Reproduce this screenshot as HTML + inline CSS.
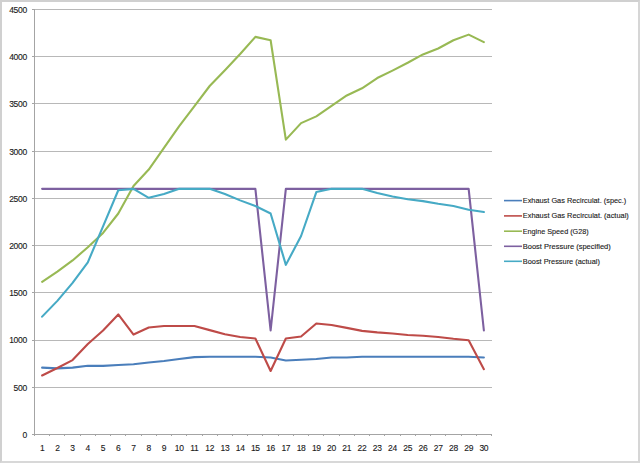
<!DOCTYPE html>
<html><head><meta charset="utf-8"><style>
html,body{margin:0;padding:0;background:#fff;}
body{width:640px;height:463px;overflow:hidden;position:relative;}
.frame{position:absolute;left:0;top:0;width:636px;height:459px;border-style:solid;border-width:2px;border-color:#d0d0d0 #d6d6d6 #d8d8d8 #d0d0d0;}
svg{position:absolute;left:0;top:0;}
.ax{font-family:"Liberation Sans",sans-serif;font-size:8.5px;letter-spacing:-0.3px;fill:#1a1a1a;stroke:#1a1a1a;stroke-width:0.12px;}
.lg{font-family:"Liberation Sans",sans-serif;font-size:7.4px;fill:#1a1a1a;stroke:#1a1a1a;stroke-width:0.12px;}
</style></head><body>
<div class="frame"></div>
<svg width="640" height="463" viewBox="0 0 640 463">
<line x1="34" y1="434.5" x2="492" y2="434.5" stroke="#b8b8b8" stroke-width="1"/>
<line x1="34" y1="387.5" x2="492" y2="387.5" stroke="#b8b8b8" stroke-width="1"/>
<line x1="34" y1="340.5" x2="492" y2="340.5" stroke="#b8b8b8" stroke-width="1"/>
<line x1="34" y1="292.5" x2="492" y2="292.5" stroke="#b8b8b8" stroke-width="1"/>
<line x1="34" y1="245.5" x2="492" y2="245.5" stroke="#b8b8b8" stroke-width="1"/>
<line x1="34" y1="198.5" x2="492" y2="198.5" stroke="#b8b8b8" stroke-width="1"/>
<line x1="34" y1="151.5" x2="492" y2="151.5" stroke="#b8b8b8" stroke-width="1"/>
<line x1="34" y1="103.5" x2="492" y2="103.5" stroke="#b8b8b8" stroke-width="1"/>
<line x1="34" y1="56.5" x2="492" y2="56.5" stroke="#b8b8b8" stroke-width="1"/>
<line x1="34" y1="9.5" x2="492" y2="9.5" stroke="#b8b8b8" stroke-width="1"/>
<line x1="34.5" y1="9" x2="34.5" y2="435" stroke="#a4a4a4" stroke-width="1"/>
<line x1="32" y1="434.5" x2="34" y2="434.5" stroke="#a4a4a4" stroke-width="1"/>
<line x1="32" y1="387.5" x2="34" y2="387.5" stroke="#a4a4a4" stroke-width="1"/>
<line x1="32" y1="340.5" x2="34" y2="340.5" stroke="#a4a4a4" stroke-width="1"/>
<line x1="32" y1="292.5" x2="34" y2="292.5" stroke="#a4a4a4" stroke-width="1"/>
<line x1="32" y1="245.5" x2="34" y2="245.5" stroke="#a4a4a4" stroke-width="1"/>
<line x1="32" y1="198.5" x2="34" y2="198.5" stroke="#a4a4a4" stroke-width="1"/>
<line x1="32" y1="151.5" x2="34" y2="151.5" stroke="#a4a4a4" stroke-width="1"/>
<line x1="32" y1="103.5" x2="34" y2="103.5" stroke="#a4a4a4" stroke-width="1"/>
<line x1="32" y1="56.5" x2="34" y2="56.5" stroke="#a4a4a4" stroke-width="1"/>
<line x1="32" y1="9.5" x2="34" y2="9.5" stroke="#a4a4a4" stroke-width="1"/>
<line x1="34" y1="434.5" x2="492" y2="434.5" stroke="#a4a4a4" stroke-width="1"/>
<line x1="34.5" y1="434" x2="34.5" y2="436" stroke="#a4a4a4" stroke-width="1"/>
<line x1="49.5" y1="434" x2="49.5" y2="436" stroke="#a4a4a4" stroke-width="1"/>
<line x1="64.5" y1="434" x2="64.5" y2="436" stroke="#a4a4a4" stroke-width="1"/>
<line x1="80.5" y1="434" x2="80.5" y2="436" stroke="#a4a4a4" stroke-width="1"/>
<line x1="95.5" y1="434" x2="95.5" y2="436" stroke="#a4a4a4" stroke-width="1"/>
<line x1="110.5" y1="434" x2="110.5" y2="436" stroke="#a4a4a4" stroke-width="1"/>
<line x1="125.5" y1="434" x2="125.5" y2="436" stroke="#a4a4a4" stroke-width="1"/>
<line x1="141.5" y1="434" x2="141.5" y2="436" stroke="#a4a4a4" stroke-width="1"/>
<line x1="156.5" y1="434" x2="156.5" y2="436" stroke="#a4a4a4" stroke-width="1"/>
<line x1="171.5" y1="434" x2="171.5" y2="436" stroke="#a4a4a4" stroke-width="1"/>
<line x1="186.5" y1="434" x2="186.5" y2="436" stroke="#a4a4a4" stroke-width="1"/>
<line x1="202.5" y1="434" x2="202.5" y2="436" stroke="#a4a4a4" stroke-width="1"/>
<line x1="217.5" y1="434" x2="217.5" y2="436" stroke="#a4a4a4" stroke-width="1"/>
<line x1="232.5" y1="434" x2="232.5" y2="436" stroke="#a4a4a4" stroke-width="1"/>
<line x1="247.5" y1="434" x2="247.5" y2="436" stroke="#a4a4a4" stroke-width="1"/>
<line x1="262.5" y1="434" x2="262.5" y2="436" stroke="#a4a4a4" stroke-width="1"/>
<line x1="278.5" y1="434" x2="278.5" y2="436" stroke="#a4a4a4" stroke-width="1"/>
<line x1="293.5" y1="434" x2="293.5" y2="436" stroke="#a4a4a4" stroke-width="1"/>
<line x1="308.5" y1="434" x2="308.5" y2="436" stroke="#a4a4a4" stroke-width="1"/>
<line x1="323.5" y1="434" x2="323.5" y2="436" stroke="#a4a4a4" stroke-width="1"/>
<line x1="339.5" y1="434" x2="339.5" y2="436" stroke="#a4a4a4" stroke-width="1"/>
<line x1="354.5" y1="434" x2="354.5" y2="436" stroke="#a4a4a4" stroke-width="1"/>
<line x1="369.5" y1="434" x2="369.5" y2="436" stroke="#a4a4a4" stroke-width="1"/>
<line x1="384.5" y1="434" x2="384.5" y2="436" stroke="#a4a4a4" stroke-width="1"/>
<line x1="400.5" y1="434" x2="400.5" y2="436" stroke="#a4a4a4" stroke-width="1"/>
<line x1="415.5" y1="434" x2="415.5" y2="436" stroke="#a4a4a4" stroke-width="1"/>
<line x1="430.5" y1="434" x2="430.5" y2="436" stroke="#a4a4a4" stroke-width="1"/>
<line x1="445.5" y1="434" x2="445.5" y2="436" stroke="#a4a4a4" stroke-width="1"/>
<line x1="461.5" y1="434" x2="461.5" y2="436" stroke="#a4a4a4" stroke-width="1"/>
<line x1="476.5" y1="434" x2="476.5" y2="436" stroke="#a4a4a4" stroke-width="1"/>
<line x1="491.5" y1="434" x2="491.5" y2="436" stroke="#a4a4a4" stroke-width="1"/>
<polyline points="42.12,367.63 57.35,368.38 72.58,367.63 87.82,365.83 103.05,365.83 118.28,364.98 133.52,364.32 148.75,362.43 163.98,360.92 179.22,359.03 194.45,357.14 209.68,356.77 224.92,356.77 240.15,356.77 255.38,356.77 270.62,357.52 285.85,360.54 301.08,359.79 316.32,359.03 331.55,357.52 346.78,357.52 362.02,356.77 377.25,356.77 392.48,356.77 407.72,356.77 422.95,356.77 438.18,356.77 453.42,356.77 468.65,356.77 483.88,357.52" fill="none" stroke="#4A7EBB" stroke-width="2.1" stroke-linejoin="round" stroke-linecap="round"/>
<polyline points="42.12,375.47 57.35,368.01 72.58,360.07 87.82,344.02 103.05,330.51 118.28,314.46 133.52,334.57 148.75,327.49 163.98,325.98 179.22,325.98 194.45,325.98 209.68,330.13 224.92,334.29 240.15,336.93 255.38,338.44 270.62,371.03 285.85,338.44 301.08,336.46 316.32,323.43 331.55,324.94 346.78,327.87 362.02,330.89 377.25,332.40 392.48,333.53 407.72,335.04 422.95,335.80 438.18,336.93 453.42,338.82 468.65,340.33 483.88,369.14" fill="none" stroke="#BE4B48" stroke-width="2.1" stroke-linejoin="round" stroke-linecap="round"/>
<polyline points="42.12,281.78 57.35,271.58 72.58,260.43 87.82,247.31 103.05,232.95 118.28,213.49 133.52,186.01 148.75,169.58 163.98,147.86 179.22,126.04 194.45,106.02 209.68,85.99 224.92,70.32 240.15,54.07 255.38,36.88 270.62,40.28 285.85,139.64 301.08,123.11 316.32,116.41 331.55,105.92 346.78,95.44 362.02,88.26 377.25,78.06 392.48,70.60 407.72,62.76 422.95,54.45 438.18,48.50 453.42,40.28 468.65,34.62 483.88,42.08" fill="none" stroke="#98B954" stroke-width="2.1" stroke-linejoin="round" stroke-linecap="round"/>
<polyline points="42.12,188.84 57.35,188.84 72.58,188.84 87.82,188.84 103.05,188.84 118.28,188.84 133.52,188.84 148.75,188.84 163.98,188.84 179.22,188.84 194.45,188.84 209.68,188.84 224.92,188.84 240.15,188.84 255.38,188.84 270.62,330.51 285.85,188.84 301.08,188.84 316.32,188.84 331.55,188.84 346.78,188.84 362.02,188.84 377.25,188.84 392.48,188.84 407.72,188.84 422.95,188.84 438.18,188.84 453.42,188.84 468.65,188.84 483.88,330.51" fill="none" stroke="#7D60A0" stroke-width="2.1" stroke-linejoin="round" stroke-linecap="round"/>
<polyline points="42.12,316.63 57.35,300.86 72.58,282.91 87.82,262.32 103.05,226.34 118.28,190.26 133.52,188.84 148.75,197.82 163.98,194.04 179.22,188.84 194.45,188.84 209.68,188.84 224.92,194.04 240.15,200.37 255.38,206.03 270.62,213.49 285.85,264.87 301.08,235.97 316.32,192.06 331.55,188.84 346.78,188.84 362.02,188.84 377.25,192.91 392.48,196.59 407.72,199.33 422.95,201.12 438.18,203.77 453.42,206.03 468.65,209.81 483.88,211.98" fill="none" stroke="#46AAC5" stroke-width="2.1" stroke-linejoin="round" stroke-linecap="round"/>
<text x="26.9" y="437.90" text-anchor="end" class="ax">0</text>
<text x="26.9" y="390.68" text-anchor="end" class="ax">500</text>
<text x="26.9" y="343.46" text-anchor="end" class="ax">1000</text>
<text x="26.9" y="296.23" text-anchor="end" class="ax">1500</text>
<text x="26.9" y="249.01" text-anchor="end" class="ax">2000</text>
<text x="26.9" y="201.79" text-anchor="end" class="ax">2500</text>
<text x="26.9" y="154.57" text-anchor="end" class="ax">3000</text>
<text x="26.9" y="107.34" text-anchor="end" class="ax">3500</text>
<text x="26.9" y="60.12" text-anchor="end" class="ax">4000</text>
<text x="26.9" y="12.90" text-anchor="end" class="ax">4500</text>
<text x="42.12" y="450.9" text-anchor="middle" class="ax">1</text>
<text x="57.35" y="450.9" text-anchor="middle" class="ax">2</text>
<text x="72.58" y="450.9" text-anchor="middle" class="ax">3</text>
<text x="87.82" y="450.9" text-anchor="middle" class="ax">4</text>
<text x="103.05" y="450.9" text-anchor="middle" class="ax">5</text>
<text x="118.28" y="450.9" text-anchor="middle" class="ax">6</text>
<text x="133.52" y="450.9" text-anchor="middle" class="ax">7</text>
<text x="148.75" y="450.9" text-anchor="middle" class="ax">8</text>
<text x="163.98" y="450.9" text-anchor="middle" class="ax">9</text>
<text x="179.22" y="450.9" text-anchor="middle" class="ax">10</text>
<text x="194.45" y="450.9" text-anchor="middle" class="ax">11</text>
<text x="209.68" y="450.9" text-anchor="middle" class="ax">12</text>
<text x="224.92" y="450.9" text-anchor="middle" class="ax">13</text>
<text x="240.15" y="450.9" text-anchor="middle" class="ax">14</text>
<text x="255.38" y="450.9" text-anchor="middle" class="ax">15</text>
<text x="270.62" y="450.9" text-anchor="middle" class="ax">16</text>
<text x="285.85" y="450.9" text-anchor="middle" class="ax">17</text>
<text x="301.08" y="450.9" text-anchor="middle" class="ax">18</text>
<text x="316.32" y="450.9" text-anchor="middle" class="ax">19</text>
<text x="331.55" y="450.9" text-anchor="middle" class="ax">20</text>
<text x="346.78" y="450.9" text-anchor="middle" class="ax">21</text>
<text x="362.02" y="450.9" text-anchor="middle" class="ax">22</text>
<text x="377.25" y="450.9" text-anchor="middle" class="ax">23</text>
<text x="392.48" y="450.9" text-anchor="middle" class="ax">24</text>
<text x="407.72" y="450.9" text-anchor="middle" class="ax">25</text>
<text x="422.95" y="450.9" text-anchor="middle" class="ax">26</text>
<text x="438.18" y="450.9" text-anchor="middle" class="ax">27</text>
<text x="453.42" y="450.9" text-anchor="middle" class="ax">28</text>
<text x="468.65" y="450.9" text-anchor="middle" class="ax">29</text>
<text x="483.88" y="450.9" text-anchor="middle" class="ax">30</text>
<line x1="504" y1="200.60" x2="522" y2="200.60" stroke="#4A7EBB" stroke-width="1.6"/>
<text x="522.75" y="203.35" class="lg" textLength="103.5" lengthAdjust="spacingAndGlyphs">Exhaust Gas Recirculat. (spec.)</text>
<line x1="504" y1="215.90" x2="522" y2="215.90" stroke="#BE4B48" stroke-width="1.6"/>
<text x="522.75" y="218.47" class="lg" textLength="106" lengthAdjust="spacingAndGlyphs">Exhaust Gas Recirculat. (actual)</text>
<line x1="504" y1="231.20" x2="522" y2="231.20" stroke="#98B954" stroke-width="1.6"/>
<text x="522.75" y="233.60" class="lg" textLength="65.9" lengthAdjust="spacingAndGlyphs">Engine Speed (G28)</text>
<line x1="504" y1="246.30" x2="522" y2="246.30" stroke="#7D60A0" stroke-width="1.6"/>
<text x="522.75" y="248.72" class="lg" textLength="88" lengthAdjust="spacingAndGlyphs">Boost Pressure (specified)</text>
<line x1="504" y1="261.30" x2="522" y2="261.30" stroke="#46AAC5" stroke-width="1.6"/>
<text x="522.75" y="263.85" class="lg" textLength="77.1" lengthAdjust="spacingAndGlyphs">Boost Pressure (actual)</text>
</svg>
</body></html>
